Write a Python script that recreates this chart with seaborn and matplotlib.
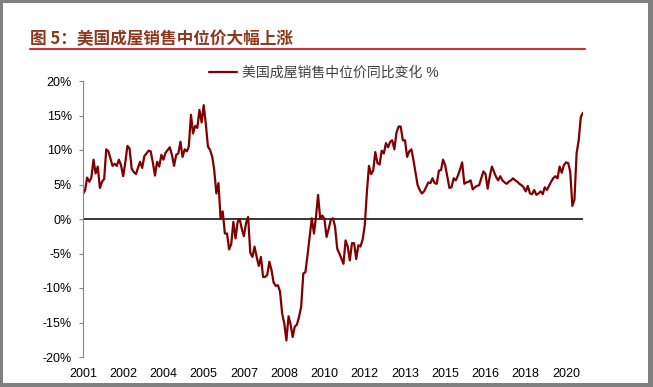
import pandas as pd
import matplotlib
matplotlib.use("Agg")
import matplotlib.pyplot as plt
from matplotlib.patches import Rectangle
from matplotlib.lines import Line2D
import seaborn as sns

# ===== data (monthly, YoY %) =====
start_month = "2001-01"
yoy_2001_2004 = [3.6, 4.2, 6.0, 5.4, 6.0, 8.6, 6.6, 7.6, 4.5, 5.4,
                 5.8, 10.1, 9.8, 8.7, 7.7, 8.0, 7.7, 8.6, 7.8, 6.2,
                 8.2, 10.6, 10.2, 7.3, 6.8, 6.5, 7.4, 8.3, 7.4, 9.1,
                 9.5, 9.9, 9.8, 8.2, 6.3, 8.3, 7.6, 9.3, 8.6, 9.6,
                 10.0, 10.4, 9.3, 7.7, 9.3, 9.5, 11.2]
yoy_2004_2008 = [9.0, 10.1, 9.8, 10.5, 15.1, 12.4, 13.5, 13.2, 15.8, 14.0,
                 16.5, 13.7, 10.5, 10.0, 9.0, 7.1, 3.7, 5.2, 0.0, 1.1,
                 -2.1, -2.1, -4.4, -3.6, -0.4, -2.8, -0.4, 0.0, -1.4, -2.5,
                 -0.6, 0.3, -4.9, -5.5, -4.0, -5.5, -6.8, -5.5, -8.4, -8.4,
                 -8.1, -6.2, -7.4]
yoy_2008_2012 = [-9.2, -9.7, -9.6, -10.5, -13.7, -15.1, -17.6, -14.1, -15.2, -17.1,
                 -15.6, -15.3, -14.2, -12.7, -7.9, -7.7, -5.2, -2.6, 0.1, -2.1,
                 0.2, 3.5, 0.1, 0.5, 0.0, -2.6, -1.4, -0.1, 0.1, -1.1,
                 -4.3, -5.0, -5.7, -6.5, -3.1, -4.0, -6.0, -3.5, -3.5, -5.8,
                 -3.8, -4.0, -3.0, -0.9, 3.7]
yoy_2012_2016 = [7.7, 6.5, 7.0, 9.7, 8.1, 7.9, 9.9, 9.5, 11.0, 10.4,
                 11.2, 11.4, 10.1, 12.5, 13.4, 13.4, 11.4, 11.4, 9.0, 9.8,
                 10.1, 8.5, 6.6, 4.9, 4.2, 3.7, 4.0, 4.6, 5.3, 5.2,
                 5.9, 5.2, 5.1, 7.0, 7.1, 8.6, 7.8, 6.2, 4.5, 4.6,
                 5.9, 5.6, 6.3, 7.2, 8.2, 5.1, 5.3]
yoy_2016_2020 = [5.4, 5.6, 4.3, 4.6, 4.8, 4.9, 5.9, 6.9, 6.5, 4.4,
                 6.2, 7.6, 6.9, 6.1, 5.6, 6.2, 5.6, 5.3, 5.1, 5.4,
                 5.6, 5.9, 5.6, 5.4, 5.1, 4.9, 4.6, 4.0, 4.8, 3.7,
                 3.6, 4.2, 3.5, 3.7, 4.0, 3.6, 4.6, 4.2, 4.8, 5.4,
                 5.9, 6.2, 5.9, 7.6, 6.7, 7.8, 8.2, 8.1, 6.9, 1.9,
                 2.8, 9.5, 11.4, 14.8, 15.4]
yoy_change = yoy_2001_2004 + yoy_2004_2008 + yoy_2008_2012 + yoy_2012_2016 + yoy_2016_2020

y_ticks = [-20, -15, -10, -5, 0, 5, 10, 15, 20]
label_step = 19  # one x label every 19 months, like the source chart
legend_label = "美国成屋销售中位价同比变化 %"
title_text = "图 5：美国成屋销售中位价大幅上涨"

dates = pd.date_range(start_month, periods=len(yoy_change), freq="MS")
df = pd.DataFrame({"date": dates, "yoy": yoy_change})

sns.set_theme(style="white")
plt.rcParams['font.family'] = ['Liberation Sans', 'Noto Sans CJK SC']

W, H = 653, 387
fig = plt.figure(figsize=(W / 100, H / 100), dpi=100)
fig.patch.set_facecolor('#808080')
fig.add_artist(Rectangle((3 / W, 4 / H), 645 / W, 380 / H, transform=fig.transFigure,
                         facecolor='white', edgecolor='none', zorder=0))

ax = fig.add_axes([83 / W, 1 - 357 / H, 500 / W, 276 / H])
ax.set_facecolor('white')
sns.lineplot(data=df, x="date", y="yoy", color="#800000", linewidth=1.6, ax=ax, label=legend_label)
ax.axhline(0, color='black', lw=1.1, zorder=1)

ax.set_xlim(dates[0], dates[-1])
ax.set_ylim(-20, 20)
ax.set_yticks(y_ticks)
ax.set_yticklabels([f"{t}%" for t in y_ticks])
tick_dates = dates[::label_step]
ax.set_xticks(tick_dates)
ax.set_xticklabels([str(d.year) for d in tick_dates])
ax.set_xlabel("")
ax.set_ylabel("")

for s in ['top', 'right', 'bottom']:
    ax.spines[s].set_visible(False)
ax.spines['left'].set_color('#868686')
ax.spines['left'].set_linewidth(0.8)
ax.tick_params(axis='y', left=True, length=3, width=0.8, color='#868686',
               pad=5, labelsize=9, labelcolor='black')
ax.tick_params(axis='x', bottom=False, length=0, pad=8, labelsize=9, labelcolor='black')

handles, labels = ax.get_legend_handles_labels()
ax.get_legend().remove()
fig.legend(handles, labels, loc='center', bbox_to_anchor=(0.496, 1 - 73 / H),
           frameon=False, fontsize=10, handlelength=2.0, handletextpad=0.4,
           labelcolor='#404040')

# title with red rule
fig.text(30 / W, 1 - 39 / H, title_text, color='#8B3A1E', fontsize=12,
         fontweight='bold', va='center', ha='left', family=['Noto Sans CJK SC'])
fig.add_artist(Line2D([30 / W, 585 / W], [1 - 48.5 / H] * 2, transform=fig.transFigure,
                      color='#CC3333', lw=1.5))

fig.savefig("out.png", dpi=100)
plt.close()
